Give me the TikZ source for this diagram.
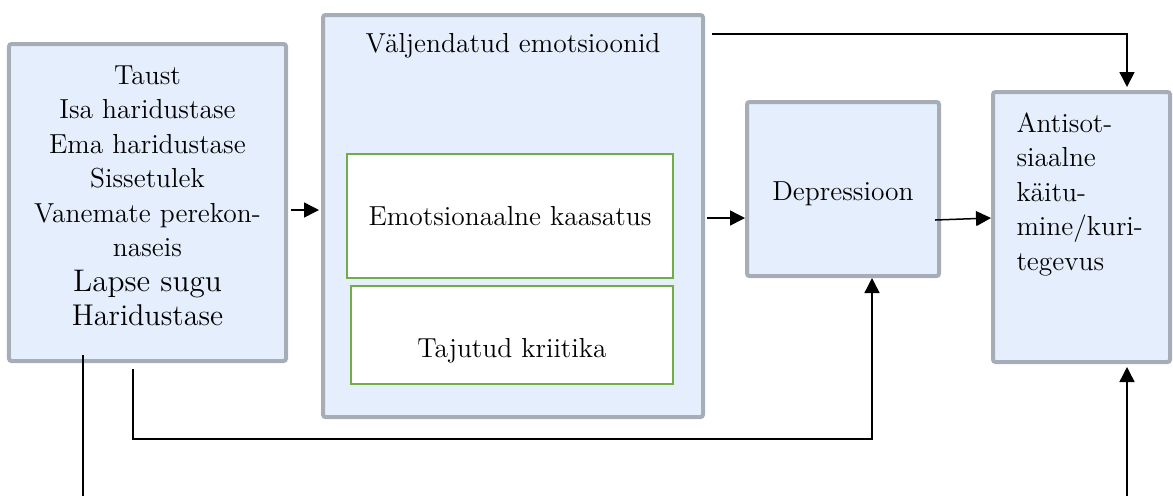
\documentclass[tikz,border=0pt]{standalone}
\usepackage{xcolor}
\usepackage{tikz}
\usetikzlibrary{arrows.meta,positioning}

\definecolor{boxgray}{HTML}{A7ADB7}
\definecolor{boxblue}{HTML}{E4EEFC}
\definecolor{boxgreen}{HTML}{70AD47}

\begin{document}
\begin{tikzpicture}[x=0.4pt, y=-0.4pt,
	outerbox/.style={draw=boxgray, line width=1.6pt, fill=boxblue, rounded corners=1pt, inner sep=0, align=center, font=\fontsize{11}{13.8}\selectfont},
	innerbox/.style={draw=boxgreen, line width=0.8pt, fill=white, inner sep=0, align=center, font=\fontsize{11}{13.8}\selectfont},
	txt/.style={inner sep=0, font=\fontsize{11}{13.8}\selectfont},
	arr/.style={-{Triangle[length=6pt, width=6pt]}, line width=0.6pt},
	plain/.style={line width=0.6pt}
]
\useasboundingbox (0,0) rectangle (1173,496);

\node[outerbox, minimum width=110.8pt, minimum height=126.8pt] (taust) at (147.5,202.5) {};
\node[outerbox, minimum width=152pt, minimum height=160.8pt] (valj) at (513,216) {};
\node[outerbox, minimum width=76.8pt, minimum height=69.6pt] (depr) at (843,189) {};
\node[outerbox, minimum width=70.8pt, minimum height=108pt] (anti) at (1081.5,227) {};

\node[innerbox, minimum width=130.4pt, minimum height=49.6pt] (kaas) at (510,216) {Emotsionaalne kaasatus};
\node[innerbox, minimum width=128.8pt, minimum height=39.2pt] (krit) at (512,335) {};

\node[txt, align=center, anchor=north] (taustTxt) at (147.5,65) {Taust\\Isa haridustase\\Ema haridustase\\Sissetulek\\Vanemate perekon-\\naseis\\{\fontsize{12.5}{14.5}\selectfont Lapse sugu}\\{\fontsize{12}{15}\selectfont Haridustase}};
\node[txt, anchor=north] (valjTxt) at (513,33) {Väljendatud emotsioonid};
\node[txt, anchor=base] (deprTxt) at (843,200) {Depressioon};
\node[txt, anchor=base] (kritTxt) at (512,357) {Tajutud kriitika};
\node[txt, align=left, anchor=north west] (antiTxt) at (1016,112) {Antisot-\\siaalne\\käitu-\\mine/kuri-\\tegevus};

\draw[arr, shorten >=0.8pt] ([xshift=1.2pt,yshift=-3pt]taust.east) coordinate (t1) -- (t1 -| valj.west);
\coordinate (d1) at ([yshift=-11.6pt]depr.west);
\draw[arr] ([xshift=0.8pt]d1 -| valj.east) -- (d1);
\draw[arr] ([xshift=-2.4pt,yshift=-12.4pt]depr.east) -- ([yshift=3.6pt]anti.west);
\draw[arr, shorten >=1.2pt] ([xshift=2.8pt,yshift=-8.4pt]valj.north east) -| ([xshift=18.2pt]anti.north);
\draw[arr] ([xshift=-5.8pt,yshift=-2.4pt]taust.south) coordinate (s1) -- (s1 |- 0,439) -| ([xshift=11.6pt]depr.south);
\draw[plain] ([xshift=-25.8pt,yshift=3.2pt]taust.south) coordinate (s2) -- (s2 |- 0,496);
\coordinate (a1) at ([xshift=18.2pt]anti.south);
\draw[arr, shorten >=1.2pt] (a1 |- 0,496) -- (a1);
\end{tikzpicture}
\end{document}
